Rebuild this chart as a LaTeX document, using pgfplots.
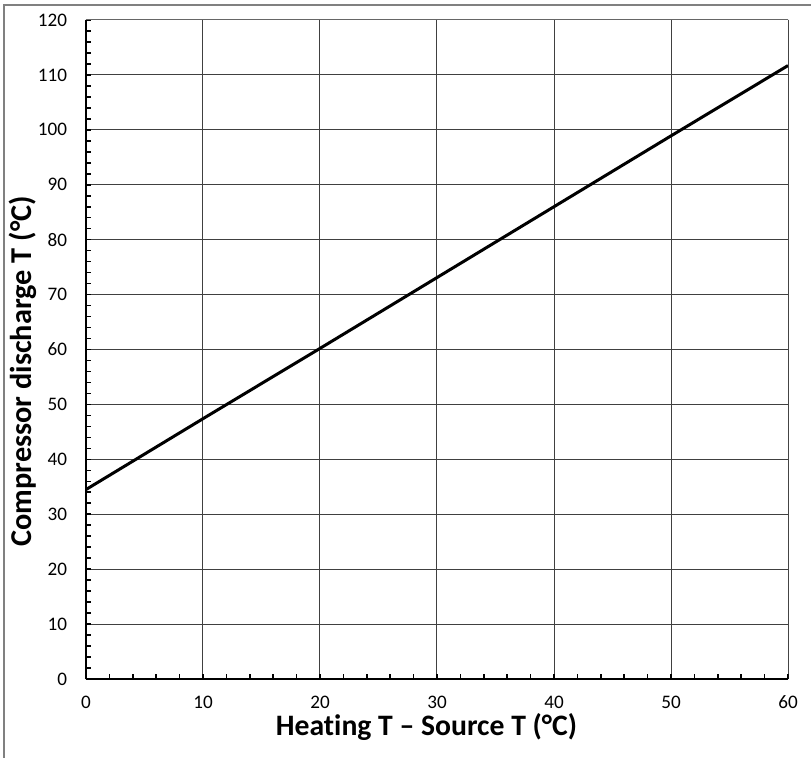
\documentclass[border=0pt]{standalone}
\usepackage{pgfplots}
\pgfplotsset{compat=1.18}
\usepackage{fontspec}
\setmainfont{Carlito}[Ligatures=NoCommon]

% discharge temperature vs. temperature lift
\pgfplotstableread{
lift  tdis
0     34.5
10    47.4
20    60.2
30    73.1
40    86.0
50    98.9
60    111.7
}\dischargedata

\begin{document}
\begin{tikzpicture}[x=1bp,y=1bp]
% page: 811x758 px at 0.5bp per px, plot area origin at px (86,679)
\path[use as bounding box] (-43,-39.5) rectangle (362.5,339.5);
\draw[black!50, line width=0.6bp] (-41,-60) -- (-41,337) -- (380,337);
\begin{axis}[
    at={(0,0)}, anchor=south west,
    scale only axis,
    width=351bp, height=329.5bp,
    xmin=0, xmax=60, ymin=0, ymax=120,
    xtick distance=10, ytick distance=10,
    minor tick num=4,
    axis x line*=bottom, axis y line*=left,
    axis line style={line width=1bp, -},
    tick align=inside,
    major tick length=2.5bp, minor tick length=2.5bp,
    every tick/.style={black, line width=0.8bp},
    grid=major,
    major x grid style={black!75, line width=0.5bp},
    major y grid style={black!75, line width=0.5bp},
    /pgf/number format/assume math mode=true,
    ticklabel style={font=\fontsize{9.6}{11}\selectfont},
    yticklabel style={xshift=-6bp},
    xticklabel style={yshift=-5bp},
    xlabel={Heating T – Source T (°C)},
    ylabel={Compressor discharge T (°C)},
    xlabel style={font=\bfseries\fontsize{14.9}{18}\selectfont,
        at={(axis description cs:0.485,-0.073)}, anchor=center},
    ylabel style={font=\bfseries\fontsize{15.2}{18}\selectfont,
        at={(axis description cs:-0.09,0.467)}, anchor=center},
]
\addplot[black, line width=1.5bp] table[x=lift, y=tdis] {\dischargedata};
\draw[black!60, line width=0.5bp] (rel axis cs:0,1) -- (rel axis cs:1,1) -- (rel axis cs:1,0);
\end{axis}
\end{tikzpicture}
\end{document}
